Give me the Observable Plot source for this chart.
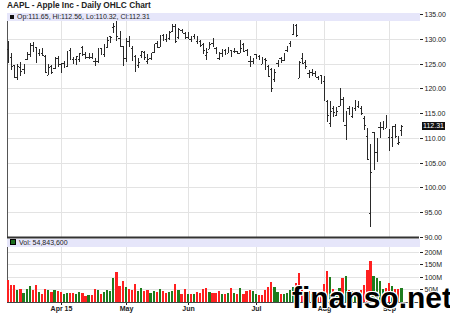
<!DOCTYPE html>
<html><head><meta charset="utf-8">
<script src="https://cdn.jsdelivr.net/npm/d3@7"></script>
<script src="https://cdn.jsdelivr.net/npm/@observablehq/plot@0.6"></script>
<style>
html,body{margin:0;padding:0;background:#fff;}
#chart{position:relative;width:450px;height:328px;overflow:hidden;font-family:"Liberation Sans",Arial,sans-serif;color:#222;}
#chart svg{position:absolute;left:0;}
#title{position:absolute;left:7px;top:0;font-weight:bold;font-size:8.3px;line-height:10px;white-space:nowrap;z-index:3;}
.band{position:absolute;left:7px;width:413px;height:8px;background:#e6e6fa;font-size:7px;line-height:8px;white-space:nowrap;z-index:3;}
.sq{display:inline-block;width:4px;height:4px;background:#111;margin:0 3px 0 3px;vertical-align:0px;}
.sq.g{background:#1e6e1e;border:0.5px solid #000;width:4px;height:4px;}
#last{position:absolute;left:422px;width:23px;height:8px;background:#111;color:#fff;font-size:7px;line-height:8px;text-align:center;z-index:3;}
#wm{position:absolute;left:292px;top:283px;font-weight:bold;font-size:30px;line-height:30px;color:#000;white-space:nowrap;z-index:4;
  text-shadow:1px 1px 0 #fff,-1px -1px 0 #fff,1px -1px 0 #fff,-1px 1px 0 #fff;}
.xax text{font-weight:bold;}
</style></head><body><div id="chart"></div>
<script>
// ---- data (AAPL daily) ----
const dates = ["2015-03-09","2015-03-10","2015-03-11","2015-03-12","2015-03-13","2015-03-16","2015-03-17","2015-03-18","2015-03-19","2015-03-20",
"2015-03-23","2015-03-24","2015-03-25","2015-03-26","2015-03-27","2015-03-30","2015-03-31",
"2015-04-01","2015-04-02","2015-04-06","2015-04-07","2015-04-08","2015-04-09","2015-04-10","2015-04-13","2015-04-14","2015-04-15","2015-04-16","2015-04-17",
"2015-04-20","2015-04-21","2015-04-22","2015-04-23","2015-04-24","2015-04-27","2015-04-28","2015-04-29","2015-04-30",
"2015-05-01","2015-05-04","2015-05-05","2015-05-06","2015-05-07","2015-05-08","2015-05-11","2015-05-12","2015-05-13","2015-05-14","2015-05-15",
"2015-05-18","2015-05-19","2015-05-20","2015-05-21","2015-05-22","2015-05-26","2015-05-27","2015-05-28","2015-05-29",
"2015-06-01","2015-06-02","2015-06-03","2015-06-04","2015-06-05","2015-06-08","2015-06-09","2015-06-10","2015-06-11","2015-06-12",
"2015-06-15","2015-06-16","2015-06-17","2015-06-18","2015-06-19","2015-06-22","2015-06-23","2015-06-24","2015-06-25","2015-06-26","2015-06-29","2015-06-30",
"2015-07-01","2015-07-02","2015-07-06","2015-07-07","2015-07-08","2015-07-09","2015-07-10","2015-07-13","2015-07-14","2015-07-15","2015-07-16","2015-07-17",
"2015-07-20","2015-07-21","2015-07-22","2015-07-23","2015-07-24","2015-07-27","2015-07-28","2015-07-29","2015-07-30","2015-07-31",
"2015-08-03","2015-08-04","2015-08-05","2015-08-06","2015-08-07","2015-08-10","2015-08-11","2015-08-12","2015-08-13","2015-08-14",
"2015-08-17","2015-08-18","2015-08-19","2015-08-20","2015-08-21","2015-08-24","2015-08-25","2015-08-26","2015-08-27","2015-08-28","2015-08-31",
"2015-09-01","2015-09-02","2015-09-03","2015-09-04","2015-09-08"];
const opens = [127.96,126.41,124.75,122.31,124.40,123.88,125.90,127.00,128.75,128.25,
127.12,127.23,126.54,122.76,124.57,124.05,126.09,
124.82,125.03,124.47,127.64,125.85,125.85,125.95,128.37,127.00,126.41,126.28,125.55,
125.57,128.10,126.99,128.30,130.49,132.31,134.46,130.16,128.64,
126.10,129.50,128.15,126.56,124.77,126.68,127.39,125.60,126.15,127.41,129.07,
128.38,130.69,130.00,130.07,131.60,132.60,130.34,131.86,131.23,
130.28,129.86,130.66,129.58,129.50,128.90,126.70,127.92,129.18,128.19,
126.10,127.03,127.72,127.23,127.71,127.49,127.48,127.21,128.86,127.67,125.46,125.57,
126.90,126.43,124.94,125.89,124.48,123.85,121.94,125.03,126.04,125.72,127.74,129.08,
130.97,132.85,121.99,126.20,125.32,123.09,123.38,123.15,122.32,122.60,
121.50,117.42,112.95,115.97,114.58,116.53,117.81,112.53,116.04,114.32,
116.04,116.43,116.10,114.08,110.43,94.87,111.11,107.09,112.23,112.17,112.03,
110.15,110.23,112.49,108.97,111.65];
const highs = [129.57,127.22,124.77,124.90,125.40,124.95,127.32,129.16,129.25,128.40,
127.85,128.04,126.82,124.88,124.70,126.40,126.49,
125.12,125.56,127.51,128.12,126.40,126.58,127.21,128.57,127.29,127.13,127.10,126.14,
128.12,128.20,128.87,130.42,130.63,133.13,134.54,131.59,128.64,
130.13,130.57,128.45,126.75,126.08,127.62,127.56,126.88,127.19,128.95,129.49,
130.72,130.88,130.98,131.63,132.97,132.91,132.26,131.95,131.45,
131.39,130.66,130.94,130.58,129.69,129.21,128.08,129.34,130.18,128.33,
127.24,127.85,127.88,128.31,127.82,128.06,127.61,129.80,129.20,127.99,126.47,126.12,
126.94,126.69,126.23,126.15,124.64,124.06,123.85,125.76,126.37,127.15,128.57,129.62,
132.97,132.92,125.50,127.09,125.74,123.61,123.91,123.50,122.57,122.64,
122.57,117.70,117.44,116.50,116.25,119.99,118.18,115.42,116.40,116.31,
117.65,117.44,116.52,114.35,111.90,108.80,111.11,109.89,113.24,113.31,114.53,
111.88,112.34,112.78,110.45,112.56];
const lows = [125.06,123.80,122.11,121.63,122.58,122.87,125.65,126.37,127.40,125.16,
126.52,126.56,123.38,122.60,122.91,124.00,124.36,
123.10,124.19,124.33,125.98,124.97,124.66,125.26,126.61,125.91,126.01,126.11,124.46,
125.17,126.67,126.32,128.14,129.23,131.15,129.57,128.30,124.58,
125.30,128.26,125.78,123.36,124.02,126.11,125.62,124.82,125.87,127.16,128.21,
128.36,129.64,129.34,129.83,131.40,129.12,130.05,131.10,129.90,
130.05,129.32,129.90,128.91,128.36,126.83,125.62,127.85,128.48,127.11,
125.71,126.37,126.74,127.22,126.40,127.08,126.88,127.12,127.50,126.51,124.48,124.86,
125.99,125.77,124.85,123.77,122.54,119.22,121.21,124.32,125.04,125.58,127.35,128.31,
130.70,130.32,121.99,125.06,123.90,122.12,122.55,122.27,121.71,120.91,
117.52,113.25,112.10,114.12,114.50,116.53,113.33,109.63,114.54,114.01,
115.50,116.01,114.68,111.63,105.65,92.00,103.50,105.05,110.02,111.54,112.00,
107.36,108.13,110.04,108.51,110.32];
const closes = [127.14,124.51,122.24,124.45,123.59,124.95,127.04,128.47,127.50,125.90,
127.21,126.69,123.38,124.24,123.25,126.37,124.43,
124.25,125.32,127.35,126.01,125.60,126.56,127.10,126.85,126.30,126.78,126.17,124.75,
127.60,126.91,128.62,129.67,130.28,132.65,130.56,128.64,125.15,
128.95,128.70,125.80,125.01,125.26,127.62,126.32,125.87,126.01,128.95,128.77,
130.19,130.07,130.06,131.39,132.54,129.62,132.04,131.78,130.28,
130.54,129.96,130.12,129.36,128.65,127.80,127.42,128.88,128.59,127.17,
126.92,127.60,127.30,127.88,126.60,127.61,127.03,128.11,127.50,126.75,124.53,125.43,
126.60,126.44,126.00,125.69,122.57,120.07,123.28,125.66,125.61,126.82,128.51,129.62,
132.07,130.75,125.22,125.16,124.50,122.77,123.38,122.99,122.37,121.30,
118.44,114.64,115.40,115.13,115.52,119.72,113.49,115.24,115.15,115.96,
117.16,116.50,115.01,112.65,105.76,103.12,103.74,109.69,112.92,113.29,112.76,
107.72,112.34,110.37,109.27,112.31];
const volumesM = [88.5,68.9,68.9,48.4,51.8,35.9,51.0,65.3,45.8,68.7,
37.7,32.8,51.7,47.6,39.6,47.1,42.1,
40.6,32.2,37.2,35.0,37.3,32.5,40.2,36.4,25.5,28.9,28.4,51.6,
47.1,32.4,37.7,45.8,44.5,96.9,118.9,63.4,83.2,
58.5,50.9,49.3,72.1,43.9,55.6,42.0,48.2,34.3,45.2,38.2,
50.9,44.4,36.5,39.7,45.6,70.7,45.8,30.7,50.9,
32.1,33.7,30.9,38.5,35.6,52.7,56.1,39.4,35.4,36.9,
43.9,31.5,32.9,35.4,54.7,34.0,30.3,55.3,31.9,44.0,49.2,44.4,
30.2,27.2,28.1,46.9,60.0,78.6,61.4,41.4,31.8,33.6,36.2,46.2,
58.9,76.8,115.5,50.9,42.2,44.5,33.6,37.0,33.6,42.9,
70.0,124.1,99.3,52.9,38.7,55.0,97.1,101.2,48.5,42.9,
40.9,34.6,47.9,68.5,128.3,162.2,103.6,96.8,84.6,53.2,56.2,
76.8,61.9,53.2,49.9,54.8];
const lastVolume = 54843600;
const priceTicks = [90,95,100,105,110,115,120,125,130,135];
const volumeTicksM = [50,100,150,200];
const monthTickDates = ["2015-04-01","2015-05-01","2015-06-01","2015-07-01","2015-08-03","2015-09-01"];
const monthTickLabels = ["Apr 15","May","Jun","Jul","Aug","Sep"];
const titleText = "AAPL - Apple Inc - Daily OHLC Chart";

// ---- build ----
const rows = dates.map((d, i) => ({
  i, date: d, open: opens[i], high: highs[i], low: lows[i], close: closes[i],
  vol: volumesM[i] * 1e6,
  up: i === 0 ? closes[i] >= opens[i] : closes[i] >= closes[i - 1]
}));
const monthIdx = monthTickDates.map(d => dates.indexOf(d));
const labelOf = new Map(monthIdx.map((k, j) => [k, monthTickLabels[j]]));
const xDomain = [-0.34, 132.66];
const font = "'Liberation Sans', Arial, sans-serif";
const grid = "#e3e3e3";
const barColor = "#2a2a2a";

const chart = document.getElementById("chart");

const price = Plot.plot({
  width: 450, height: 246, marginTop: 14, marginBottom: 9, marginLeft: 7, marginRight: 31,
  style: {fontFamily: font, fontSize: "7px", color: "#222", background: "white"},
  x: {domain: xDomain, axis: null, round: true},
  y: {domain: [90, 135], round: true, axis: "right", ticks: priceTicks, tickFormat: d => d.toFixed(2), tickSize: 3, tickPadding: 2, label: null},
  marks: [
    Plot.gridY(priceTicks, {stroke: grid, strokeOpacity: 1}),
    Plot.gridX(monthIdx, {stroke: grid, strokeOpacity: 1}),
    Plot.ruleY([xDomain], {y: () => 135, x1: d => d[0], x2: d => d[1], stroke: "#999"}),
    Plot.ruleX([xDomain[0]], {stroke: "#555"}),
    Plot.ruleX(rows, {x: "i", y1: "low", y2: "high", stroke: barColor}),
    Plot.ruleY(rows, {y: "open", x1: d => d.i - 0.45, x2: "i", stroke: barColor}),
    Plot.ruleY(rows, {y: "close", x1: "i", x2: d => d.i + 0.45, stroke: barColor}),
    Plot.ruleY([90], {stroke: "#333", strokeWidth: 2})
  ]
});
price.style.top = "0px";
chart.appendChild(price);

const vol = Plot.plot({
  width: 450, height: 91, marginTop: 2, marginBottom: 26, marginLeft: 7, marginRight: 31,
  style: {fontFamily: font, fontSize: "7px", color: "#222", background: "transparent"},
  x: {domain: xDomain, round: true, ticks: monthIdx, tickFormat: d => labelOf.get(d), tickSize: 3, tickPadding: 1, label: null},
  y: {domain: [0, 250e6], round: true, axis: "right", ticks: volumeTicksM.map(v => v * 1e6), tickFormat: v => (v / 1e6) + "M", tickSize: 3, tickPadding: 2, label: null},
  marks: [
    Plot.gridY(volumeTicksM.map(v => v * 1e6), {stroke: grid, strokeOpacity: 1}),
    Plot.gridX(monthIdx, {stroke: grid, strokeOpacity: 1}),
    Plot.ruleX([xDomain[0]], {stroke: "#555"}),
    Plot.rectY(rows, {x1: d => d.i - 0.36, x2: d => d.i + 0.36, y: "vol", fill: d => d.up ? "#1e7d1e" : "#ff2020"}),
    Plot.ruleY([0], {stroke: "#444"})
  ]
});
vol.style.top = "237px";
vol.querySelectorAll("g[aria-label='x-axis tick label'] text, g[aria-label='x-axis tick label']").forEach(e => e.style.fontWeight = "bold");
chart.appendChild(vol);

// header texts
const title = document.createElement("div");
title.id = "title"; title.textContent = titleText; chart.appendChild(title);

const last = rows[rows.length - 1];
const pband = document.createElement("div");
pband.className = "band"; pband.style.top = "13px";
pband.innerHTML = `<span class="sq"></span>`;
pband.appendChild(document.createTextNode(`Op:${last.open.toFixed(2)}, Hi:${last.high.toFixed(2)}, Lo:${last.low.toFixed(2)}, Cl:${last.close.toFixed(2)}`));
chart.appendChild(pband);

const vband = document.createElement("div");
vband.className = "band"; vband.style.top = "239px";
vband.innerHTML = `<span class="sq g"></span>`;
vband.appendChild(document.createTextNode(`Vol: ${d3.format(",")(lastVolume)}`));
chart.appendChild(vband);

const lastBox = document.createElement("div");
lastBox.id = "last";
lastBox.style.top = (price.scale("y").apply(last.close) - 4) + "px";
lastBox.textContent = last.close.toFixed(2);
chart.appendChild(lastBox);

const wm = document.createElement("div");
wm.id = "wm"; wm.textContent = "finanso.net"; chart.appendChild(wm);
</script>
</body></html>
